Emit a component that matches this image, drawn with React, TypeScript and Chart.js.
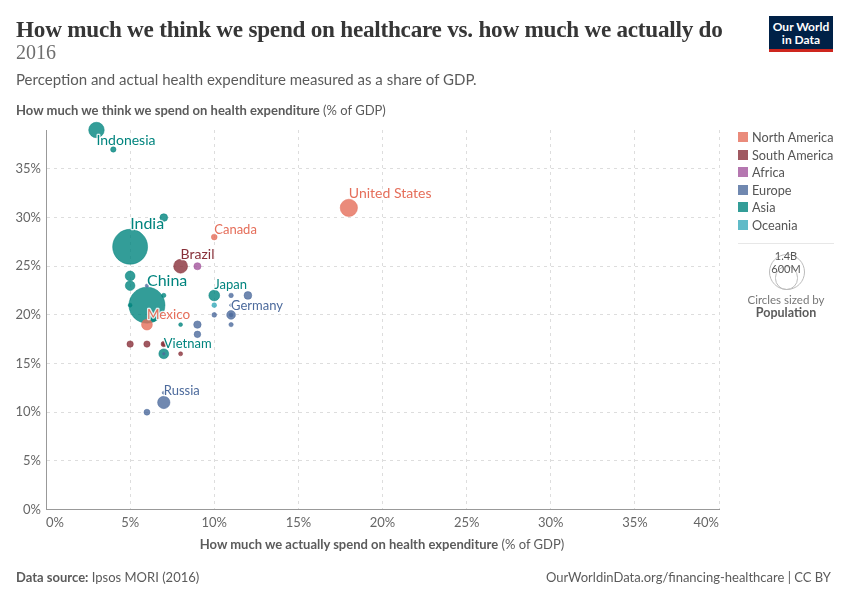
import { useEffect, useRef } from "react"
import { Chart, registerables } from "chart.js"

Chart.register(...registerables)

// actual spend, perceived spend, population in millions - biggest first so small dots stay visible
const northAmericaNames = ["United States", "Mexico", "Canada"]
const northAmericaX = [18, 6, 10]
const northAmericaY = [31, 19, 28]
const northAmericaPop = [323, 127, 36]

const southAmericaNames = ["Brazil", "", "", "", "", ""]
const southAmericaX = [8, 5, 6, 7, 8, 7]
const southAmericaY = [25, 17, 17, 17, 16, 17]
const southAmericaPop = [207, 44, 43, 32, 18, 12]

const africaNames = [""]
const africaX = [9]
const africaY = [25]
const africaPop = [55]

const europeNames = ["Russia", "Germany", "", "", "", "", "", "", "", "", "", "", "", ""]
const europeX = [7, 11, 12, 9, 9, 6, 11, 10, 11, 6, 7, 7, 11, 11]
const europeY = [11, 20, 22, 19, 18, 10, 20, 20, 19, 23, 12, 16, 22, 21]
const europePop = [165, 82, 65, 60, 47, 38, 17, 24, 20, 12, 10, 7, 22, 9]

const asiaNames = ["China", "India", "Indonesia", "Japan", "", "", "Vietnam", "", "", "", "", "", ""]
const asiaX = [6, 5, 3, 10, 5, 5, 7, 7, 6.4, 4, 7, 5, 8]
const asiaY = [21, 27, 39, 22, 24, 23, 16, 30, 19.6, 37, 22, 21, 19]
const asiaPop = [1400, 1320, 260, 127, 104, 100, 105, 64, 32, 31, 20, 16, 16]

const oceaniaNames = [""]
const oceaniaX = [10]
const oceaniaY = [21]
const oceaniaPop = [24]

const continents = ["North America", "South America", "Africa", "Europe", "Asia", "Oceania"]
const continentColors = ["#E56E5A", "#883039", "#A2559C", "#4C6A9C", "#00847E", "#38AABA"]
const continentFills = [
  "rgba(229,110,90,0.8)",
  "rgba(136,48,57,0.8)",
  "rgba(162,85,156,0.8)",
  "rgba(76,106,156,0.8)",
  "rgba(0,132,126,0.8)",
  "rgba(56,170,186,0.8)",
]

const xTicks = [0, 5, 10, 15, 20, 25, 30, 35, 40]

// label look: [font size, dx, dy] from the centre of the country's bubble
const labelStyles: Record<string, [number, number, number]> = {
  "United States": [14, 0, -10],
  Mexico: [13.5, 0, -6],
  Canada: [13, 0, -3],
  Brazil: [14, 0, -7],
  Russia: [13, 0, -7],
  Germany: [13, 0, -5],
  China: [16, 0, -19],
  India: [16, 0, -18],
  Indonesia: [14, 0, 15],
  Japan: [13, 0, -6],
  Vietnam: [13, 0, -6],
}

const popRadius = (pop: number) => 18 * Math.sqrt(pop / 1400)

const makeSet = (i: number, names: string[], xs: number[], ys: number[], pops: number[]) => ({
  label: continents[i],
  names,
  data: xs.map((x, k) => ({ x, y: ys[k], pop: pops[k] })),
  backgroundColor: continentFills[i],
  borderColor: continentColors[i],
  borderWidth: 0.5,
  clip: false,
  radius: (ctx: any) => (ctx.raw ? popRadius(ctx.raw.pop) : 0),
})

const countryLabels = {
  id: "countryLabels",
  afterDatasetsDraw(chart: any) {
    const ctx = chart.ctx
    ctx.save()
    ctx.lineJoin = "round"
    chart.data.datasets.forEach((ds: any, i: number) => {
      const meta = chart.getDatasetMeta(i)
      ds.names.forEach((name: string, k: number) => {
        if (!name) return
        const [size, dx, dy] = labelStyles[name]
        const pt = meta.data[k]
        ctx.font = `${size}px Lato`
        ctx.lineWidth = 2.5
        ctx.strokeStyle = "rgba(255,255,255,0.85)"
        ctx.strokeText(name, pt.x + dx, pt.y + dy)
        ctx.fillStyle = continentColors[i]
        ctx.fillText(name, pt.x + dx, pt.y + dy)
      })
    })
    ctx.restore()
  },
}

const abs = (left: number, top: number, extra: any = {}) => ({
  position: "absolute" as const,
  left,
  top,
  whiteSpace: "nowrap" as const,
  ...extra,
})

export default function App() {
  const chartRef = useRef<HTMLCanvasElement>(null)

  useEffect(() => {
    if (!chartRef.current) return

    const chart = new Chart(chartRef.current, {
      type: "bubble",
      data: {
        datasets: [
          makeSet(0, northAmericaNames, northAmericaX, northAmericaY, northAmericaPop),
          makeSet(1, southAmericaNames, southAmericaX, southAmericaY, southAmericaPop),
          makeSet(2, africaNames, africaX, africaY, africaPop),
          makeSet(3, europeNames, europeX, europeY, europePop),
          makeSet(4, asiaNames, asiaX, asiaY, asiaPop),
          makeSet(5, oceaniaNames, oceaniaX, oceaniaY, oceaniaPop),
        ] as any,
      },
      options: {
        responsive: false,
        animation: false,
        layout: { padding: { top: 130, right: 131, left: 0, bottom: 0 } },
        plugins: {
          legend: { display: false },
          tooltip: { enabled: false },
        },
        scales: {
          x: {
            min: xTicks[0],
            max: xTicks[xTicks.length - 1],
            afterFit: (scale: any) => {
              scale.height = 90.5
            },
            border: { color: "#999", dash: [3, 4] },
            grid: { color: "#ddd", drawTicks: false },
            ticks: {
              stepSize: 5,
              align: "inner",
              padding: 6,
              color: "#666",
              font: { family: "Lato", size: 13 },
              callback: (value) => `${value}%`,
            },
          },
          y: {
            min: 0,
            max: 39,
            afterFit: (scale: any) => {
              scale.width = 46
            },
            border: { color: "#999", dash: [3, 4] },
            grid: { color: "#ddd", drawTicks: false },
            ticks: {
              stepSize: 5,
              includeBounds: false,
              padding: 5,
              color: "#666",
              font: { family: "Lato", size: 13 },
              callback: (value) => `${value}%`,
            },
          },
        },
      },
      plugins: [countryLabels],
    })

    return () => chart.destroy()
  }, [])

  const bigR = popRadius(1400)
  const smallR = popRadius(600)
  const circleBottom = 290

  return (
    <div style={{ position: "fixed", left: 0, top: 0, width: 850, height: 600, background: "#fff", fontFamily: "Lato", color: "#5b5b5b", overflow: "hidden" }}>
      <canvas ref={chartRef} width={850} height={600} style={{ position: "absolute", left: 0, top: 0 }} />

      <div style={abs(16, 14, { fontFamily: "Liberation Serif", fontWeight: 700, fontSize: 23.2, lineHeight: "30px", color: "#363636", letterSpacing: -0.25 })}>
        How much we think we spend on healthcare vs. how much we actually do
      </div>
      <div style={abs(16, 41, { fontFamily: "Liberation Serif", fontWeight: 400, fontSize: 20, lineHeight: "22px", color: "#6e6e6e" })}>2016</div>
      <div style={abs(16, 69, { fontSize: 15, lineHeight: "20px" })}>Perception and actual health expenditure measured as a share of GDP.</div>
      <div style={abs(16, 102, { fontSize: 13, lineHeight: "16px" })}>
        <b>How much we think we spend on health expenditure</b> (% of GDP)
      </div>
      <div style={abs(382, 536, { fontSize: 13, lineHeight: "16px", transform: "translateX(-50%)" })}>
        <b>How much we actually spend on health expenditure</b> (% of GDP)
      </div>

      <div style={abs(769, 16, { width: 64, height: 36, background: "#002147", borderBottom: "3px solid #ce261e", boxSizing: "border-box", color: "#fff", fontWeight: 700, fontSize: 12, lineHeight: "13px", textAlign: "center", paddingTop: 4 })}>
        Our World
        <br />
        in Data
      </div>

      {continents.map((name, i) => (
        <div key={name}>
          <div style={abs(738, 132 + i * 17.6, { width: 10, height: 10, background: continentFills[i] })} />
          <div style={abs(752, 129 + i * 17.6, { fontSize: 12.7, lineHeight: "16px", color: "#555" })}>{name}</div>
        </div>
      ))}
      <div style={abs(738, 243, { width: 96, height: 1, background: "#e7e7e7" })} />

      <div style={abs(786.5 - bigR, circleBottom - 2 * bigR, { width: 2 * bigR, height: 2 * bigR, border: "1px solid #bbb", borderRadius: "50%", boxSizing: "border-box" })} />
      <div style={abs(786.5 - smallR, circleBottom - 2 * smallR, { width: 2 * smallR, height: 2 * smallR, border: "1px solid #bbb", borderRadius: "50%", boxSizing: "border-box" })} />
      <div style={abs(786, 249, { fontSize: 11, lineHeight: "13px", color: "#555", transform: "translateX(-50%)", textShadow: "0 0 1px #fff" })}>1.4B</div>
      <div style={abs(786, 262, { fontSize: 11, lineHeight: "13px", color: "#555", transform: "translateX(-50%)", textShadow: "0 0 1px #fff" })}>600M</div>
      <div style={abs(786, 292, { fontSize: 11.5, lineHeight: "15px", color: "#777", transform: "translateX(-50%)" })}>Circles sized by</div>
      <div style={abs(786, 305, { fontSize: 12.5, lineHeight: "16px", fontWeight: 700, color: "#5b5b5b", transform: "translateX(-50%)" })}>Population</div>

      <div style={abs(16, 569, { fontSize: 13, lineHeight: "16px" })}>
        <b>Data source:</b> Ipsos MORI (2016)
      </div>
      <div style={abs(0, 569, { left: "auto", right: 19, fontSize: 13, lineHeight: "16px" })}>OurWorldinData.org/financing-healthcare | CC BY</div>
    </div>
  )
}
